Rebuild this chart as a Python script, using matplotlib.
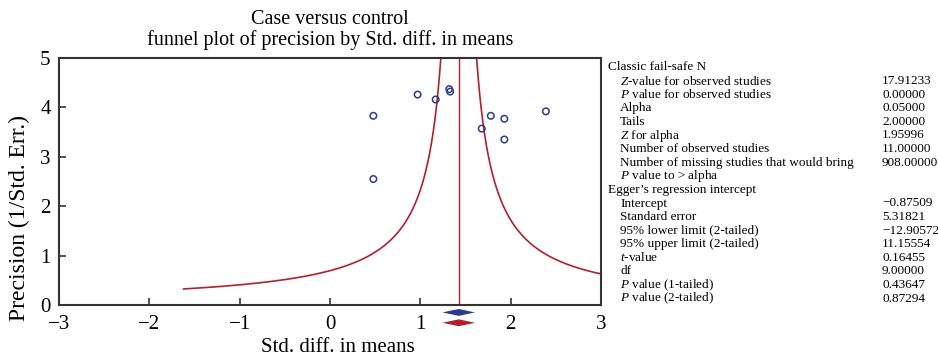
import numpy as np
import matplotlib
matplotlib.use("Agg")
import matplotlib.pyplot as plt

plt.rcParams['font.family'] = ['Liberation Serif', 'DejaVu Serif']
plt.rcParams['mathtext.fontset'] = 'custom'
plt.rcParams['mathtext.rm'] = 'Liberation Serif'
plt.rcParams['mathtext.it'] = 'Liberation Serif:italic'

# Data
std_diff = [0.97, 1.17, 1.32, 1.33, 0.48, 0.48, 1.78, 1.93, 1.68, 1.93, 2.39]
precision = [4.26, 4.16, 4.37, 4.32, 3.83, 2.55, 3.83, 3.77, 3.57, 3.35, 3.92]
mean_effect = 1.425
diamond_halfwidth = 0.18
funnel_c = 0.99
funnel_min_prec = 0.325

xticks = [-3, -2, -1, 0, 1, 2, 3]
yticks = [0, 1, 2, 3, 4, 5]

stat_labels = [
    ("Classic fail-safe N", "", 0),
    ("$Z$-value for observed studies", "17.91233", 1),
    ("$P$ value for observed studies", "0.00000", 1),
    ("Alpha", "0.05000", 1),
    ("Tails", "2.00000", 1),
    ("$Z$ for alpha", "1.95996", 1),
    ("Number of observed studies", "11.00000", 1),
    ("Number of missing studies that would bring", "908.00000", 1),
    ("$P$ value to > alpha", "", 1),
    ("Egger\u2019s regression intercept", "", 0),
    ("Intercept", "\u22120.87509", 1),
    ("Standard error", "5.31821", 1),
    ("95% lower limit (2-tailed)", "\u221212.90572", 1),
    ("95% upper limit (2-tailed)", "11.15554", 1),
    ("$t$-value", "0.16455", 1),
    ("df", "9.00000", 1),
    ("$P$ value (1-tailed)", "0.43647", 1),
    ("$P$ value (2-tailed)", "0.87294", 1),
]

fig = plt.figure(figsize=(9.38, 3.6), dpi=100)
ax = fig.add_axes([59/938, 1-305/360, 542/938, 247/360])

red = '#b0202e'
blue = '#2c3a8e'

# funnel
p = np.linspace(funnel_min_prec, 5.5, 600)
ax.plot(mean_effect - funnel_c / p, p, color=red, lw=1.2)
ax.plot(mean_effect + funnel_c / p, p, color=red, lw=1.2)
ax.axvline(mean_effect, color=red, lw=1.0)

ax.scatter(std_diff, precision, s=22, facecolors='none', edgecolors=blue, linewidths=1.1, zorder=3)

# diamonds
for yc, col in [(-0.15, blue), (-0.36, red)]:
    xs = [mean_effect - diamond_halfwidth, mean_effect, mean_effect + diamond_halfwidth, mean_effect]
    ys = [yc, yc + 0.07, yc, yc - 0.07]
    ax.fill(xs, ys, color=col, clip_on=False, lw=0)

ax.set_xlim(-3, 3)
ax.set_ylim(0, 5)
ax.set_xticks(xticks)
ax.set_xticklabels(['\u22123', '\u22122', '\u22121', '0', '1', '2', '3'])
ax.set_yticks(yticks)
ax.tick_params(direction='in', length=5, width=1.2, labelsize=15, colors='#333333', labelcolor='black')
ax.tick_params(axis='x', pad=7)
ax.tick_params(axis='y', pad=6)
for s in ax.spines.values():
    s.set_color('#333333')
    s.set_linewidth(1.5)

ax.set_xlabel("Std. diff. in means", fontsize=15)
ax.xaxis.set_label_coords((338-59)/542, -(348-305)/247)
ax.xaxis.label.set_va('center')
ax.set_ylabel("Precision (1/Std. Err.)", fontsize=17)
ax.yaxis.set_label_coords(-(59-19)/542, (305-218)/247)
ax.yaxis.label.set_va('center')
fig.text(330/938, 1-19/360, "Case versus control", ha='center', va='center', fontsize=14.5)
fig.text(330/938, 1-40/360, "funnel plot of precision by Std. diff. in means", ha='center', va='center', fontsize=14.5)

y0 = 67.5
dy = 13.6
for i, (lab, val, ind) in enumerate(stat_labels):
    y = 1 - (y0 + i * dy) / 360
    x = (608 + 12 * ind) / 938
    fig.text(x, y, lab, ha='left', va='center', fontsize=9.5)
    if val:
        fig.text(882 / 938, y, val, ha='left', va='center', fontsize=9.5)

fig.savefig("out.png", dpi=100)
